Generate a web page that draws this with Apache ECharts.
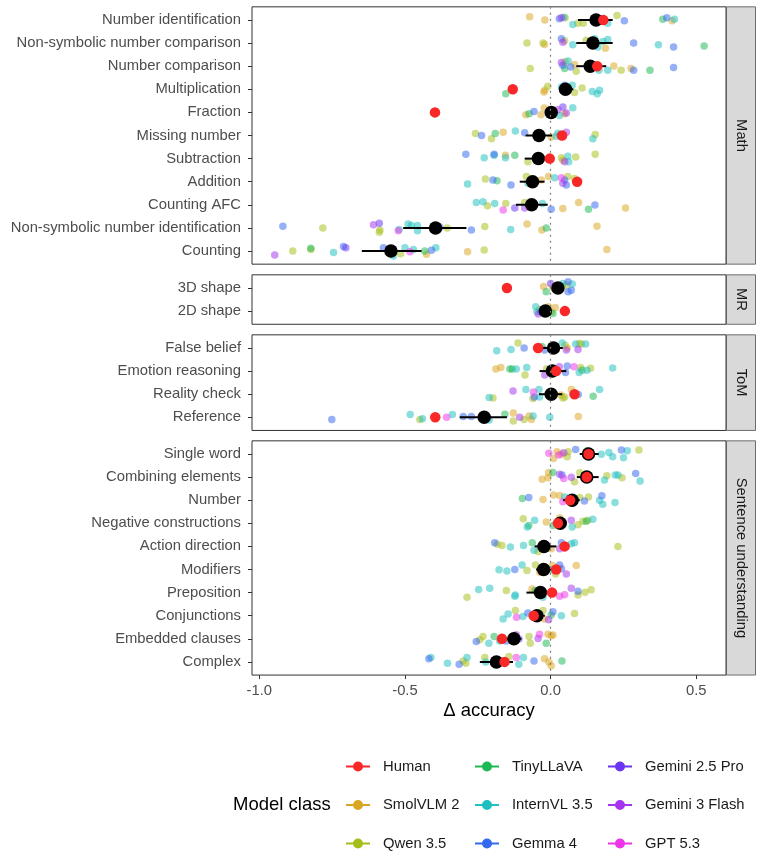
<!DOCTYPE html>
<html>
<head>
<meta charset="utf-8">
<script src="https://cdn.jsdelivr.net/npm/echarts@6/dist/echarts.min.js"></script>
<style>
html,body{margin:0;padding:0;background:#fff;}
#chart{width:763px;height:856px;}
</style>
</head>
<body>
<div id="chart"></div>
<script>
// ---------------- DATA ----------------
const models = ['SmolVLM 2','Qwen 3.5','TinyLLaVA','InternVL 3.5','Gemma 4','Gemini 2.5 Pro','Gemini 3 Flash','GPT 5.3'];
const modelColors = ['#DAA520','#A8BE18','#1DB954','#1EBFBF','#3468F0','#6B33F2','#A535EE','#EE33E8'];
const humanColor = '#F82828';
const facetNames = ['Math','MR','ToM','Sentence understanding'];

// points: [delta accuracy, vertical jitter (row units), model index]
const mathTasks = ['Number identification','Non-symbolic number comparison','Number comparison','Multiplication','Fraction','Missing number','Subtraction','Addition','Counting AFC','Non-symbolic number identification','Counting'];
const mathHuman = [0.181,null,0.16,-0.13,-0.397,0.039,-0.003,0.091,null,null,null];
const mathMean = [0.156,0.145,0.136,0.051,0.002,-0.04,-0.042,-0.062,-0.065,-0.395,-0.548];
const mathLo = [0.094,0.088,0.088,0.034,-0.015,-0.086,-0.089,-0.106,-0.119,-0.506,-0.648];
const mathHi = [0.213,0.213,0.191,0.078,0.02,0.005,-0.009,-0.021,-0.01,-0.289,-0.443];
const mathPoints = [
 [[-0.072,-0.14,0],[-0.02,0,0],[0.03,-0.05,4],[0.037,-0.1,6],[0.045,-0.12,3],[0.05,-0.1,1],[0.076,0.19,3],[0.093,0.14,1],[0.112,0.14,1],[0.196,0.14,3],[0.228,-0.19,1],[0.253,0.03,4],[0.385,-0.03,2],[0.399,-0.1,4],[0.417,0.03,0],[0.425,-0.03,3]],
 [[-0.081,0,1],[-0.026,0,1],[-0.021,0.06,0],[0.037,-0.19,4],[0.042,-0.04,6],[0.048,-0.1,1],[0.076,0.07,3],[0.122,-0.12,1],[0.151,-0.19,3],[0.162,0.17,3],[0.188,0.22,0],[0.179,-0.07,3],[0.196,-0.16,3],[0.285,0,4],[0.37,0.07,3],[0.422,0.17,4],[0.527,0.13,2]],
 [[-0.07,0.1,1],[0.037,-0.16,6],[0.042,-0.04,4],[0.048,0.1,2],[0.05,-0.19,1],[0.06,-0.22,3],[0.069,0.03,4],[0.082,-0.07,0],[0.088,0.22,1],[0.166,0.17,3],[0.196,0.17,3],[0.217,-0.01,0],[0.242,0.17,1],[0.276,0.1,0],[0.285,0.17,4],[0.341,0.17,2],[0.422,0.06,4]],
 [[-0.154,0.19,2],[-0.023,0.12,0],[-0.02,0.04,0],[-0.01,-0.13,1],[0.037,-0.1,3],[0.042,0.04,6],[0.048,-0.17,4],[0.059,-0.03,2],[0.074,-0.17,3],[0.082,0.14,1],[0.108,-0.06,1],[0.143,0.09,3],[0.16,0.19,3],[0.168,0.04,3]],
 [[-0.085,0.1,0],[-0.074,0.06,2],[-0.057,-0.04,4],[-0.033,0.1,0],[-0.022,-0.19,0],[-0.005,-0.04,1],[0.01,-0.1,1],[0.025,-0.12,6],[0.03,0.13,3],[0.042,-0.23,5],[0.048,0.06,0],[0.054,0.03,6],[0.076,-0.2,3]],
 [[-0.258,-0.09,1],[-0.237,0,4],[-0.203,0.14,1],[-0.19,-0.09,2],[-0.163,-0.14,0],[-0.121,-0.19,3],[-0.089,-0.12,4],[0.002,0.06,0],[0.019,0.03,3],[0.025,-0.1,3],[0.045,0,7],[0.054,-0.14,6],[0.145,0.14,3],[0.153,-0.04,1]],
 [[-0.291,-0.19,4],[-0.228,-0.04,3],[-0.194,-0.14,3],[-0.194,-0.19,4],[-0.155,-0.14,0],[-0.155,-0.04,3],[-0.123,-0.14,2],[-0.078,0.14,1],[0.037,-0.04,1],[0.042,0.07,0],[0.048,0.14,6],[0.059,-0.1,3],[0.062,0.14,3],[0.086,-0.07,1],[0.153,-0.19,1]],
 [[-0.285,0.1,3],[-0.224,-0.12,1],[-0.198,-0.07,4],[-0.184,-0.04,2],[-0.136,0.14,4],[-0.083,-0.22,1],[-0.078,0.07,3],[-0.032,-0.07,0],[-0.007,-0.22,0],[0.014,-0.17,3],[0.037,-0.17,7],[0.042,0.07,6],[0.048,-0.07,4],[0.054,0.14,4],[0.059,-0.22,1],[0.082,-0.14,1]],
 [[-0.255,-0.1,3],[-0.232,-0.13,3],[-0.217,0.04,1],[-0.192,-0.06,3],[-0.163,0.22,7],[-0.154,-0.06,1],[-0.123,0.14,5],[-0.089,0.14,6],[-0.089,-0.1,1],[-0.028,-0.06,3],[0.002,0.19,4],[0.042,0.16,0],[0.096,-0.1,0],[0.13,0.19,2],[0.152,0.01,4],[0.257,0.14,0]],
 [[-0.919,-0.07,4],[-0.782,0,1],[-0.608,-0.14,6],[-0.588,-0.2,5],[-0.586,0.09,1],[-0.588,0.19,1],[-0.523,0.12,7],[-0.52,0.07,3],[-0.489,-0.17,3],[-0.478,-0.1,3],[-0.457,-0.1,3],[-0.457,0.12,3],[-0.38,-0.03,4],[-0.355,0,1],[-0.272,0.09,4],[-0.226,-0.06,1],[-0.137,0.07,3],[-0.081,-0.17,0],[-0.03,0.09,0],[-0.015,0,2],[0.159,-0.07,0]],
 [[-0.947,0.17,6],[-0.885,0,1],[-0.823,-0.12,2],[-0.823,-0.07,1],[-0.745,0.07,3],[-0.711,-0.19,4],[-0.703,-0.14,5],[-0.574,-0.14,4],[-0.54,0.22,3],[-0.515,0.12,1],[-0.5,-0.14,3],[-0.483,0.03,7],[-0.471,-0.07,3],[-0.432,0,2],[-0.426,0.14,0],[-0.409,-0.03,4],[-0.394,-0.14,3],[-0.285,0.03,0],[-0.228,-0.04,1],[0.193,-0.07,0]]
];

const mrTasks = ['3D shape','2D shape'];
const mrHuman = [-0.15,0.049];
const mrMean = [0.025,-0.018];
const mrLo = [0.01,-0.035];
const mrHi = [0.04,0.0];
const mrPoints = [
 [[-0.024,-0.07,0],[-0.015,0.16,2],[0.0,-0.2,5],[0.008,-0.03,0],[0.039,-0.03,1],[0.042,-0.2,3],[0.054,-0.13,1],[0.06,-0.27,4],[0.06,0.16,4],[0.071,0.1,4],[0.074,-0.17,3]],
 [[-0.051,-0.19,3],[-0.047,0.03,3],[-0.042,0.13,6],[-0.038,-0.07,1],[-0.033,0.03,4],[-0.027,0,3],[-0.007,-0.19,0],[0.002,0.03,1],[0.008,0.1,2],[0.016,-0.16,0]]
];

const tomTasks = ['False belief','Emotion reasoning','Reality check','Reference'];
const tomHuman = [-0.043,0.019,0.082,-0.396];
const tomMean = [0.01,0.006,0.002,-0.228];
const tomLo = [-0.026,-0.038,-0.04,-0.312];
const tomHi = [0.042,0.054,0.04,-0.15];
const tomPoints = [
 [[-0.185,0.12,3],[-0.136,0.06,3],[-0.112,-0.22,1],[-0.091,0,4],[-0.03,-0.07,2],[-0.021,0.09,4],[0.04,-0.22,3],[0.05,-0.12,1],[0.054,0.09,6],[0.057,0,0],[0.086,-0.17,3],[0.094,0.06,6],[0.098,-0.19,1],[0.106,-0.17,1],[0.12,-0.17,3]],
 [[-0.188,-0.09,0],[-0.171,-0.16,0],[-0.14,-0.09,2],[-0.132,-0.09,2],[-0.118,-0.09,3],[-0.088,0.17,1],[-0.082,-0.16,3],[-0.02,0.17,6],[-0.014,-0.09,1],[0.03,-0.19,6],[0.051,0.06,4],[0.057,-0.22,4],[0.08,-0.19,7],[0.098,0.06,3],[0.103,-0.16,1],[0.108,-0.04,2],[0.125,-0.04,3],[0.137,-0.12,1],[0.213,-0.13,3]],
 [[-0.211,0.14,3],[-0.198,0.16,1],[-0.129,-0.14,6],[-0.085,-0.2,3],[-0.059,-0.1,7],[-0.056,0.12,4],[-0.061,0.19,1],[-0.04,-0.2,3],[-0.038,0.12,3],[0.035,0.04,0],[0.042,0.16,1],[0.048,0.12,1],[0.071,-0.2,0],[0.095,0.01,4],[0.146,0.09,2],[0.168,-0.2,3]],
 [[-0.751,0.1,4],[-0.482,-0.12,3],[-0.449,0.09,1],[-0.44,0.06,3],[-0.357,0,7],[-0.337,-0.12,3],[-0.3,-0.04,4],[-0.272,-0.04,4],[-0.211,0.12,3],[-0.157,-0.13,2],[-0.128,-0.19,0],[-0.128,0.16,1],[-0.106,0,6],[-0.091,0.09,1],[-0.074,-0.06,0],[-0.066,0.09,0],[-0.06,-0.06,3],[-0.003,0,3],[0.095,-0.04,0]]
];

const sentTasks = ['Single word','Combining elements','Number','Negative constructions','Action direction','Modifiers','Preposition','Conjunctions','Embedded clauses','Complex'];
const sentHuman = [0.13,0.124,0.067,0.025,0.048,0.019,0.005,-0.058,-0.167,-0.158];
const sentMean = [0.13,0.124,0.074,0.033,-0.023,-0.024,-0.035,-0.047,-0.126,-0.186];
const sentLo = [0.1,0.09,0.043,0.01,-0.055,-0.05,-0.083,-0.07,-0.15,-0.243];
const sentHi = [0.165,0.165,0.1,0.055,0.02,0.01,-0.009,-0.02,-0.1,-0.129];
const sentPoints = [
 [[-0.006,-0.03,7],[0.01,0.19,0],[0.022,-0.1,0],[0.028,0.04,7],[0.037,0.01,0],[0.045,-0.05,6],[0.057,0.12,1],[0.06,-0.1,1],[0.086,-0.2,4],[0.126,-0.14,2],[0.174,0.01,3],[0.2,-0.07,3],[0.213,0.12,3],[0.243,-0.17,4],[0.25,0.16,3],[0.263,-0.14,3],[0.303,-0.17,1]],
 [[-0.029,0.09,0],[-0.009,0.03,0],[-0.007,-0.19,0],[0.008,-0.2,2],[0.031,-0.12,6],[0.039,-0.09,4],[0.045,0.06,7],[0.071,0.01,6],[0.082,0.2,1],[0.1,-0.19,1],[0.185,0.13,3],[0.193,-0.06,1],[0.222,-0.09,3],[0.231,-0.09,3],[0.245,0.03,1],[0.292,-0.16,4],[0.307,0.17,3]],
 [[-0.097,-0.07,2],[-0.075,-0.12,4],[-0.026,-0.03,0],[0.01,-0.22,0],[0.031,-0.2,0],[0.042,0.07,7],[0.048,-0.14,3],[0.074,0.12,6],[0.1,-0.12,1],[0.116,0.03,4],[0.13,-0.14,1],[0.168,0,3],[0.176,-0.19,4],[0.179,0.17,3],[0.221,0.1,3]],
 [[-0.094,-0.2,1],[-0.075,0.09,2],[-0.08,0.16,3],[-0.055,-0.13,3],[-0.015,-0.06,0],[0.008,0.09,2],[0.031,-0.23,0],[0.071,-0.13,6],[0.074,0.16,3],[0.094,0.06,1],[0.111,-0.09,1],[0.122,-0.09,2],[0.128,-0.13,1],[0.145,-0.17,3]],
 [[-0.192,-0.16,4],[-0.183,-0.09,1],[-0.167,-0.04,1],[-0.138,0.03,3],[-0.093,-0.04,3],[-0.063,-0.16,2],[-0.057,0.17,3],[-0.043,0.22,1],[0.002,0.1,0],[0.031,0.1,6],[0.037,-0.16,4],[0.071,-0.12,3],[0.082,-0.16,3],[0.231,0,1]],
 [[-0.177,0.01,3],[-0.15,0.07,3],[-0.123,0,4],[-0.098,-0.2,3],[-0.081,0.04,1],[-0.052,-0.2,1],[-0.037,0.12,0],[0.0,0,3],[0.006,-0.17,0],[0.017,0.19,1],[0.031,-0.2,4],[0.037,-0.03,4],[0.054,0.19,6],[0.088,-0.17,0]],
 [[-0.287,0.2,1],[-0.247,-0.13,3],[-0.209,-0.19,3],[-0.152,-0.09,1],[-0.123,0.16,3],[-0.121,0.1,3],[-0.064,-0.16,0],[-0.053,-0.09,2],[-0.026,0.2,3],[0.031,0.16,7],[0.048,0.09,7],[0.071,-0.19,6],[0.094,-0.06,4],[0.094,0.1,1],[0.118,-0.01,1],[0.139,-0.12,1]],
 [[-0.163,0.14,3],[-0.146,-0.07,3],[-0.121,-0.22,1],[-0.117,0.07,7],[-0.095,0.04,3],[-0.078,-0.12,4],[-0.038,-0.07,4],[-0.026,-0.22,1],[-0.021,0.14,0],[-0.007,0.17,6],[0.002,-0.03,2],[0.008,-0.17,4],[0.037,0,3],[0.082,-0.1,1]],
 [[-0.255,0.12,4],[-0.243,0.04,1],[-0.232,-0.1,1],[-0.212,0.19,3],[-0.194,-0.1,2],[-0.175,0.09,3],[-0.152,0.09,4],[-0.118,-0.17,6],[-0.109,0.01,5],[-0.074,-0.1,1],[-0.07,0.19,1],[-0.043,-0.01,6],[-0.038,-0.2,7],[-0.015,0.19,2],[-0.009,-0.2,0],[0.002,-0.13,0],[0.008,-0.16,0]],
 [[-0.418,-0.14,4],[-0.411,-0.19,3],[-0.354,0.06,3],[-0.314,0.1,4],[-0.3,-0.04,1],[-0.291,0.06,1],[-0.287,-0.19,3],[-0.226,-0.19,1],[-0.223,0,3],[-0.143,-0.23,1],[-0.118,-0.19,7],[-0.109,0.1,3],[-0.093,-0.19,3],[-0.057,-0.04,4],[-0.021,-0.14,0],[-0.006,0,0],[0.002,0.17,0],[0.039,-0.04,2]]
];

const xTicks = [-1.0,-0.5,0.0,0.5];
const xMin = -1.025, xMax = 0.602;

// ---------------- LAYOUT ----------------
const facetTasks = [mathTasks, mrTasks, tomTasks, sentTasks];
const facetHuman = [mathHuman, mrHuman, tomHuman, sentHuman];
const facetMean = [mathMean, mrMean, tomMean, sentMean];
const facetLo = [mathLo, mrLo, tomLo, sentLo];
const facetHi = [mathHi, mrHi, tomHi, sentHi];
const facetPoints = [mathPoints, mrPoints, tomPoints, sentPoints];

const rowH = 23.1, pad = 0.57;
const gridLeft = 252, gridRightEdge = 726;
const firstRowY = [20, 288, 348, 454];
const FONT = '"Liberation Sans", Arial, Helvetica, sans-serif';

const grids = [], xAxes = [], yAxes = [], series = [], graphics = [];
facetTasks.forEach((tasks, f) => {
  const n = tasks.length;
  const top = firstRowY[f] - pad * rowH;
  const height = (n - 1 + 2 * pad) * rowH;
  const last = f === facetTasks.length - 1;
  grids.push({left: gridLeft, top: top, width: gridRightEdge - gridLeft, height: height,
    show: true, borderColor: '#333333', borderWidth: 1, backgroundColor: '#fff'});
  xAxes.push({
    type: 'value', gridIndex: f, min: xMin, max: xMax, position: 'bottom',
    axisLine: {show: false, onZero: false},
    splitLine: {show: false},
    axisTick: {show: last, customValues: xTicks, length: 4, lineStyle: {color: '#333333', width: 1}},
    axisLabel: {show: last, customValues: xTicks, margin: 8, color: '#4D4D4D', fontSize: 14.8, fontFamily: FONT,
      formatter: v => v.toFixed(1)},
    name: last ? 'Δ accuracy' : '', nameLocation: 'middle', nameGap: 26,
    nameTextStyle: {fontSize: 18.5, color: '#000', fontFamily: FONT}
  });
  const idx = tasks.map((_, i) => i);
  yAxes.push({
    type: 'value', gridIndex: f, inverse: true, min: -pad, max: n - 1 + pad, position: 'left',
    axisLine: {show: false, onZero: false}, splitLine: {show: false},
    axisTick: {show: true, customValues: idx, length: 4, lineStyle: {color: '#333333', width: 1}},
    axisLabel: {show: true, customValues: idx, margin: 11, color: '#4D4D4D', fontSize: 14.8, fontFamily: FONT,
      formatter: v => tasks[Math.round(v)]}
  });

  // zero reference line
  series.push({type: 'scatter', xAxisIndex: f, yAxisIndex: f, data: [], z: 1, silent: true,
    markLine: {silent: true, symbol: ['none','none'], label: {show: false},
      lineStyle: {type: [2, 4], color: '#7F7F7F', width: 1.2}, data: [{xAxis: 0}], animation: false}});

  // jittered model points
  models.forEach((m, mi) => {
    const data = [];
    facetPoints[f].forEach((row, r) => row.forEach(p => { if (p[2] === mi) data.push([p[0], r + p[1]]); }));
    series.push({type: 'scatter', name: m, xAxisIndex: f, yAxisIndex: f, data: data,
      symbol: 'circle', symbolSize: 7.5, z: 2,
      itemStyle: {color: modelColors[mi], opacity: 0.52}, emphasis: {disabled: true}});
  });

  // error bars
  series.push({type: 'custom', name: 'CI', xAxisIndex: f, yAxisIndex: f, z: 3, silent: true,
    data: facetLo[f].map((lo, r) => [lo, facetHi[f][r], r]),
    encode: {x: [0, 1], y: 2},
    renderItem: (params, api) => {
      const a = api.coord([api.value(0), api.value(2)]);
      const b = api.coord([api.value(1), api.value(2)]);
      return {type: 'line', shape: {x1: a[0], y1: a[1], x2: b[0], y2: b[1]},
        style: {stroke: '#000', lineWidth: 2}};
    }});
  // means
  series.push({type: 'scatter', name: 'Mean', xAxisIndex: f, yAxisIndex: f, z: 4,
    data: facetMean[f].map((v, r) => [v, r]), symbolSize: 13.5,
    itemStyle: {color: '#000', opacity: 1}, emphasis: {disabled: true}});
  // human
  const hd = [];
  facetHuman[f].forEach((v, r) => { if (v !== null) hd.push([v, r]); });
  series.push({type: 'scatter', name: 'Human', xAxisIndex: f, yAxisIndex: f, z: 5,
    data: hd, symbolSize: 10.5, itemStyle: {color: humanColor, opacity: 1}, emphasis: {disabled: true}});

  // facet strip
  graphics.push({type: 'rect', shape: {x: gridRightEdge + 0.5, y: top, width: 29, height: height},
    style: {fill: '#D9D9D9', stroke: '#4D4D4D', lineWidth: 0.8}, silent: true});
  graphics.push({type: 'text', x: gridRightEdge + 15, y: top + height / 2, rotation: -Math.PI / 2,
    style: {text: facetNames[f], fill: '#1A1A1A', fontSize: 14.8, fontFamily: FONT, align: 'center', verticalAlign: 'middle'},
    silent: true});
});

graphics.push({type: 'text', x: 233, y: 805,
  style: {text: 'Model class', fill: '#000', fontSize: 18.5, fontFamily: FONT, align: 'left', verticalAlign: 'middle'}, silent: true});

const keyIcon = 'path://M0,0L0,0.01Z M32,12L32,11.99Z M0,5L24,5L24,7L0,7Z M17,6A5,5,0,1,1,7,6A5,5,0,1,1,17,6Z';
const legendCols = [['Human','SmolVLM 2','Qwen 3.5'],['TinyLLaVA','InternVL 3.5','Gemma 4'],['Gemini 2.5 Pro','Gemini 3 Flash','GPT 5.3']];
const legendLeft = [346, 475, 608];
const legends = legendCols.map((col, c) => ({
  data: col, orient: 'vertical', left: legendLeft[c], top: 759, height: 100, padding: 0,
  itemWidth: 32, itemHeight: 12, itemGap: 23.5, icon: keyIcon, selectedMode: false,
  itemStyle: {opacity: 1},
  textStyle: {fontSize: 14.8, color: '#1A1A1A', fontFamily: FONT}
}));

const chart = echarts.init(document.getElementById('chart'), null, {renderer: 'canvas'});
chart.setOption({
  animation: false,
  backgroundColor: '#fff',
  textStyle: {fontFamily: FONT},
  grid: grids, xAxis: xAxes, yAxis: yAxes, series: series,
  legend: legends,
  graphic: graphics
});
</script>
</body>
</html>
